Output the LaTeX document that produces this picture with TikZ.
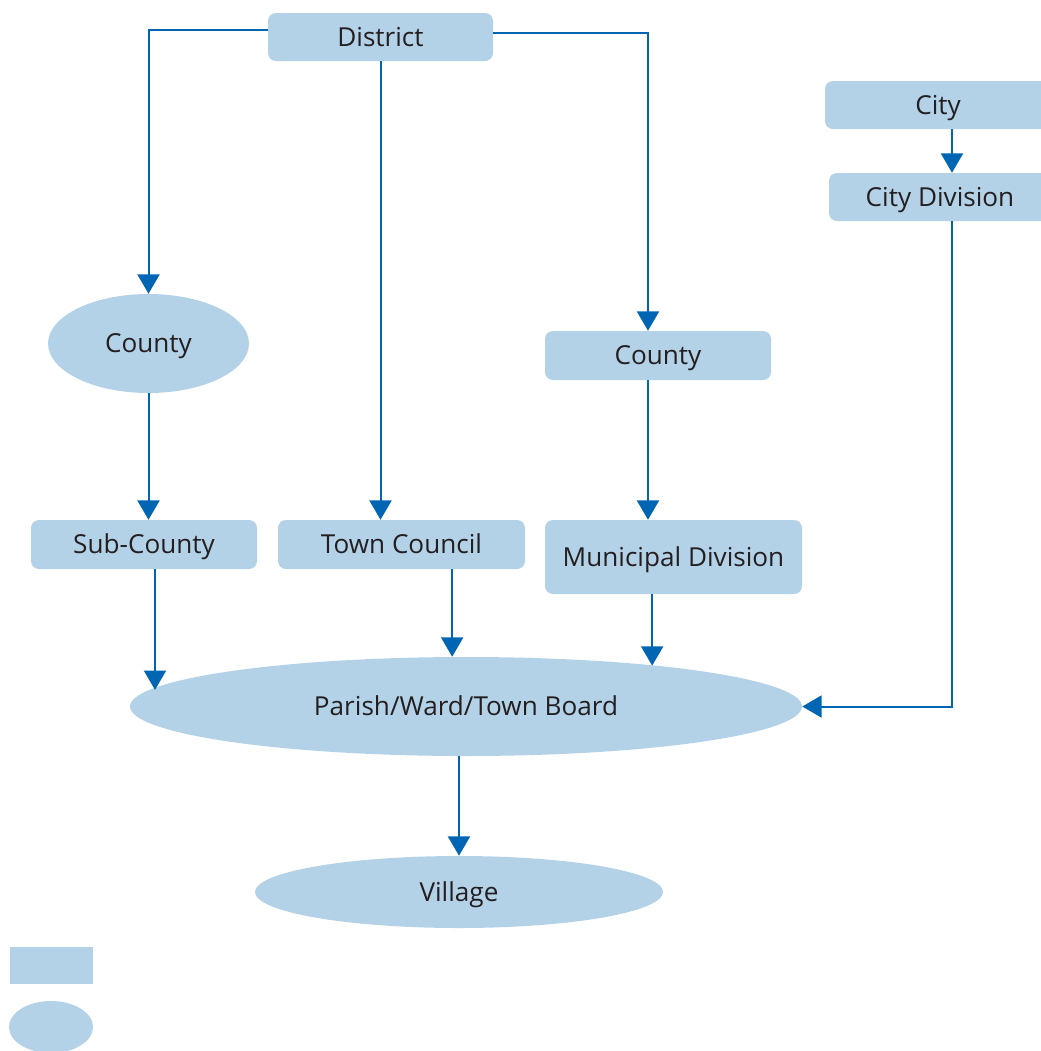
\documentclass[tikz,border=0pt]{standalone}
\usepackage{fontspec}
\setmainfont{Open Sans}
\usepackage{xcolor}
\usetikzlibrary{arrows.meta, positioning, shapes.geometric, calc}
\definecolor{boxblue}{HTML}{B4D2E7}
\definecolor{linkblue}{HTML}{0066B3}
\definecolor{txt}{HTML}{231F20}
\tikzstyle{unit} = [rectangle, rounded corners=6pt, fill=boxblue, text=txt, inner sep=0pt, minimum height=36.75pt, text height=14pt, text depth=0pt]
\tikzstyle{oval} = [ellipse, fill=boxblue, text=txt, inner sep=0pt, text height=14pt, text depth=0pt]
\tikzstyle{link} = [line width=1.5pt, draw=linkblue, -{Triangle[length=14.5pt,width=16.5pt]}]

\begin{document}
\begin{tikzpicture}[x=0.75pt, y=-0.75pt, font=\fontsize{19.6}{23}\selectfont]
      \useasboundingbox (0,0) rectangle (1041,1051);
      % top level
      \node (district) [unit, minimum width=168.75pt, minimum height=36pt] at (380.5,37) {District};
      \node (city) [unit, minimum width=169.5pt, minimum height=36pt] at (938,105) {City};
      \node (citydiv) [unit, minimum width=166.5pt, minimum height=36pt] at (940,197) {City Division};
      % counties
      \node (countyA) [oval, minimum width=150.75pt, minimum height=74.25pt] at (148.5,343.5) {County};
      \node (countyB) [unit, minimum width=169.5pt] at (658,355.5) {County};
      % lower units
      \node (subcounty) [unit, minimum width=169.5pt] at (144,544.5) {Sub-County};
      \node (town) [unit, minimum width=185.25pt] at (401.5,544.5) {Town Council};
      \node (municipal) [unit, minimum width=192.75pt, minimum height=55.5pt] at (673.5,557) {Municipal Division};
      \node (parish) [oval, minimum width=504pt, minimum height=74.25pt] at (466,706.5) {Parish/Ward/Town Board};
      \node (village) [oval, minimum width=306pt, minimum height=54pt] at (459,892) {Village};
      % legend
      \node (keybox) [rectangle, fill=boxblue, inner sep=0pt, minimum width=62.25pt, minimum height=27.75pt] at (51.5,965.5) {};
      \node (keyoval) [oval, minimum width=63pt, minimum height=39pt] at (51,1027) {};
      % connectors
      \draw [link] ([yshift=5.25pt]district.west) -| (countyA.north);
      \draw [link] (district.south) -- (district.south |- town.north);
      \draw [link] ([yshift=3pt]district.east) -| ([xshift=-7.5pt]countyB.north);
      \draw [link] (countyA.south) -- (countyA.south |- subcounty.north);
      \draw [link] ([xshift=-7.5pt]countyB.south) -- ([xshift=-7.5pt]countyB.south |- municipal.north);
      \draw [link] ([xshift=10.5pt]city.south) -- ([xshift=10.5pt]city.south |- citydiv.north);
      \draw [link] ([xshift=8.25pt]subcounty.south) -- ([xshift=8.25pt]subcounty.south |- parish.177);
      \draw [link] ([xshift=38pt]town.south) -- ([xshift=38pt]town.south |- parish.north);
      \draw [link] ([xshift=-16pt]municipal.south) -- ([xshift=-16pt]municipal.south |- parish.12);
      \draw [link] ([xshift=9pt]citydiv.south) |- (parish.east);
      \draw [link] (village.north |- parish.south) -- (village.north);
    \end{tikzpicture}
\end{document}
